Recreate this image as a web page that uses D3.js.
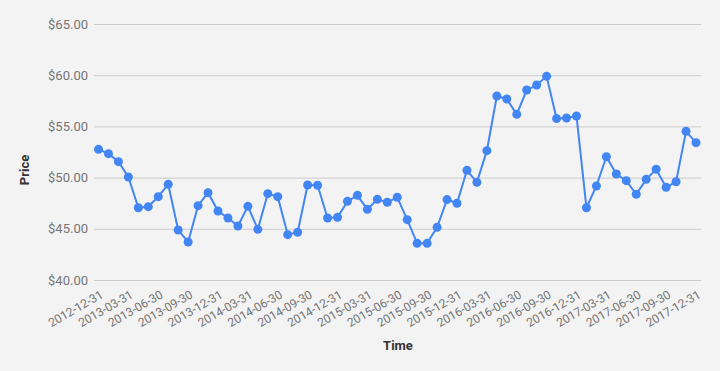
<!DOCTYPE html>
<html><head><meta charset="utf-8">
<script src="https://cdn.jsdelivr.net/npm/d3@7"></script>
<style>body{margin:0;background:#f3f3f3;}svg{display:block;font-family:Roboto,Arial,sans-serif;}</style>
</head><body><div id="chart"></div>
<script>
const dates = [
"2012-12-31","2013-01-31","2013-02-28","2013-03-31","2013-04-30","2013-05-31","2013-06-30","2013-07-31","2013-08-31","2013-09-30","2013-10-31","2013-11-30",
"2013-12-31","2014-01-31","2014-02-28","2014-03-31","2014-04-30","2014-05-31","2014-06-30","2014-07-31","2014-08-31","2014-09-30","2014-10-31","2014-11-30",
"2014-12-31","2015-01-31","2015-02-28","2015-03-31","2015-04-30","2015-05-31","2015-06-30","2015-07-31","2015-08-31","2015-09-30","2015-10-31","2015-11-30",
"2015-12-31","2016-01-31","2016-02-29","2016-03-31","2016-04-30","2016-05-31","2016-06-30","2016-07-31","2016-08-31","2016-09-30","2016-10-31","2016-11-30",
"2016-12-31","2017-01-31","2017-02-28","2017-03-31","2017-04-30","2017-05-31","2017-06-30","2017-07-31","2017-08-31","2017-09-30","2017-10-31","2017-11-30",
"2017-12-31"];
const prices = [52.76,52.34,51.56,50.06,47.06,47.16,48.14,49.34,44.88,43.71,47.26,48.53,46.74,46.05,45.27,47.19,44.95,48.43,48.14,44.43,44.66,
49.28,49.25,46.05,46.12,47.68,48.27,46.90,47.88,47.59,48.08,45.89,43.58,43.58,45.14,47.85,47.49,50.71,49.54,52.63,
57.97,57.68,56.18,58.55,59.04,59.89,55.76,55.82,56.02,47.06,49.18,52.04,50.35,49.70,48.37,49.83,50.81,49.05,49.60,54.52,53.41];
const yTicks = [40,45,50,55,60,65];
const xTickLabels = ["2012-12-31","2013-03-31","2013-06-30","2013-09-30","2013-12-31","2014-03-31","2014-06-30","2014-09-30","2014-12-31","2015-03-31","2015-06-30","2015-09-30","2015-12-31","2016-03-31","2016-06-30","2016-09-30","2016-12-31","2017-03-31","2017-06-30","2017-09-30","2017-12-31"];

const W=720,H=371;
const pL=94,pR=701,pT=24,pB=280;
const svg=d3.select('#chart').append('svg').attr('width',W).attr('height',H);
svg.append('rect').attr('width',W).attr('height',H).attr('fill','#f3f3f3');

const x=d3.scalePoint().domain(dates).range([98.5,696]);
const y=d3.scaleLinear().domain([40,65]).range([pB,pT]);

const yAxis=d3.axisLeft(y).tickValues(yTicks).tickSize(-(pR-pL)).tickFormat(d=>'$'+d3.format('.2f')(d)).tickPadding(6);
const gy=svg.append('g').attr('transform',`translate(${pL},0)`).call(yAxis);
gy.select('.domain').remove();
gy.selectAll('.tick line').attr('stroke','#cccccc').attr('stroke-width',1);
gy.selectAll('.tick text').attr('fill','#757575').attr('font-size',13).attr('font-family','Roboto');

const xAxis=d3.axisBottom(x).tickValues(xTickLabels).tickSize(0).tickPadding(0);
const gx=svg.append('g').attr('transform',`translate(0,${pB})`).call(xAxis);
gx.select('.domain').remove();
gx.selectAll('.tick text').attr('fill','#757575').attr('font-size',12).attr('font-family','Roboto')
  .attr('text-anchor','end').attr('y',0).attr('dy',0).attr('transform','translate(5,17) rotate(-30)');

svg.append('path').datum(prices).attr('fill','none').attr('stroke','#4285f4').attr('stroke-width',2)
  .attr('d',d3.line().x((d,i)=>x(dates[i])).y(d=>y(d)));
svg.append('g').selectAll('circle').data(prices).join('circle')
  .attr('cx',(d,i)=>x(dates[i])).attr('cy',d=>y(d)).attr('r',4.5).attr('fill','#4285f4');

svg.append('text').attr('x',398).attr('y',350).attr('text-anchor','middle').attr('font-size',13).attr('font-weight','bold').attr('fill','#333').text('Time');
svg.append('text').attr('transform','translate(29,170) rotate(-90)').attr('text-anchor','middle').attr('font-size',13).attr('font-weight','bold').attr('fill','#333').text('Price');
</script></body></html>
